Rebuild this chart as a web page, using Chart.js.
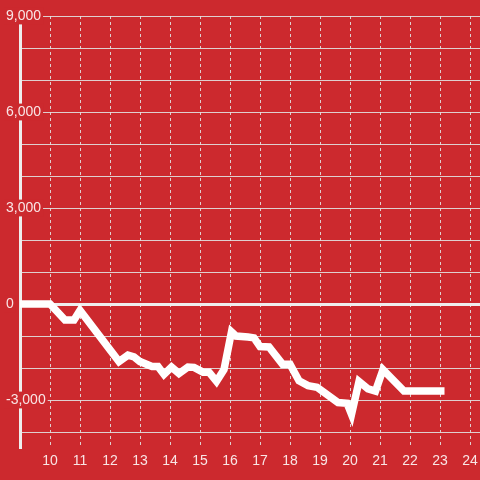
<!DOCTYPE html>
<html>
<head>
<meta charset="utf-8">
<script src="https://cdn.jsdelivr.net/npm/chart.js@4/dist/chart.umd.min.js"></script>
<style>
    html, body { margin: 0; padding: 0; background: #cc292e; }
    #wrap { width: 480px; height: 480px; position: relative; }
</style>
</head>
<body>
<div id="wrap"><canvas id="lineChart"></canvas></div>
<script>
// 数据
const days = [9, 10, 10.5, 10.8, 11, 12.3, 12.6, 12.8, 13, 13.4, 13.6, 13.8, 14.05, 14.3, 14.6, 14.8,
    15.1, 15.3, 15.55, 15.8, 16.05, 16.2, 16.6, 16.8, 17, 17.3, 17.75, 18, 18.3, 18.6, 18.9,
    19.6, 19.9, 20.05, 20.3, 20.6, 20.85, 21.1, 21.8, 23.15];
const balance = [0, 0, -500, -500, -200, -1800, -1600, -1650, -1800, -1950, -1950, -2200, -1970, -2170, -1970, -1980,
    -2130, -2130, -2420, -2050, -870, -1000, -1030, -1060, -1330, -1340, -1880, -1880, -2400, -2550, -2600,
    -3080, -3100, -3450, -2420, -2650, -2720, -2050, -2720, -2720];
const xTicks = [10, 11, 12, 13, 14, 15, 16, 17, 18, 19, 20, 21, 22, 23, 24];
const yTicks = [-4000, -3000, -2000, -1000, 0, 1000, 2000, 3000, 4000, 5000, 6000, 7000, 8000, 9000];
const yLabelTicks = [-3000, 0, 3000, 6000, 9000];

const red = '#cc292e';
const gridColor = 'rgba(225, 225, 225, 0.9)';
const textColor = 'rgba(255, 255, 255, 0.88)';

document.addEventListener('DOMContentLoaded', function() {
    const ctx = document.getElementById('lineChart').getContext('2d');
    new Chart(ctx, {
        type: 'line',
        data: {
            datasets: [{
                data: days.map((d, i) => ({ x: d, y: balance[i] })),
                borderColor: '#ffffff',
                borderWidth: 7.5,
                pointRadius: 0,
                tension: 0,
                fill: false
            }]
        },
        options: {
            responsive: true,
            maintainAspectRatio: false,
            animation: false,
            layout: { padding: { left: 6, top: 16, right: 0, bottom: 0 } },
            plugins: {
                legend: { display: false },
                tooltip: { enabled: false }
            },
            scales: {
                x: {
                    type: 'linear',
                    min: 9,
                    max: 24.333,
                    afterFit: (scale) => {
                        scale.height = 32;
                        scale.paddingLeft = 0;
                        scale.paddingRight = 0;
                    },
                    afterBuildTicks: (scale) => { scale.ticks = xTicks.map(v => ({ value: v })); },
                    ticks: {
                        color: textColor,
                        padding: 5,
                        font: { family: 'Liberation Sans', size: 14 },
                        maxRotation: 0,
                        autoSkip: false
                    },
                    grid: {
                        color: gridColor,
                        lineWidth: 1,
                        drawTicks: false
                    },
                    border: { display: false, dash: [3, 3] }
                },
                y: {
                    min: -4500,
                    max: 9000,
                    afterFit: (scale) => { scale.width = 14; },
                    afterBuildTicks: (scale) => { scale.ticks = yTicks.map(v => ({ value: v })); },
                    ticks: {
                        mirror: true,
                        crossAlign: 'near',
                        padding: -14,
                        autoSkip: false,
                        color: textColor,
                        font: { family: 'Liberation Sans', size: 14 },
                        callback: (v) => yLabelTicks.includes(v) ? v.toLocaleString('en-US') : '',
                        showLabelBackdrop: (c) => yLabelTicks.includes(c.tick.value),
                        backdropColor: red,
                        backdropPadding: { x: 2, y: 0 }
                    },
                    grid: {
                        color: (c) => c.tick && c.tick.value === 0 ? '#eeeeee' : gridColor,
                        lineWidth: (c) => c.tick && c.tick.value === 0 ? 3 : 1,
                        drawTicks: false
                    },
                    border: { display: true, color: '#eeeeee', width: 3 }
                }
            }
        }
    });
});
</script>
</body>
</html>
